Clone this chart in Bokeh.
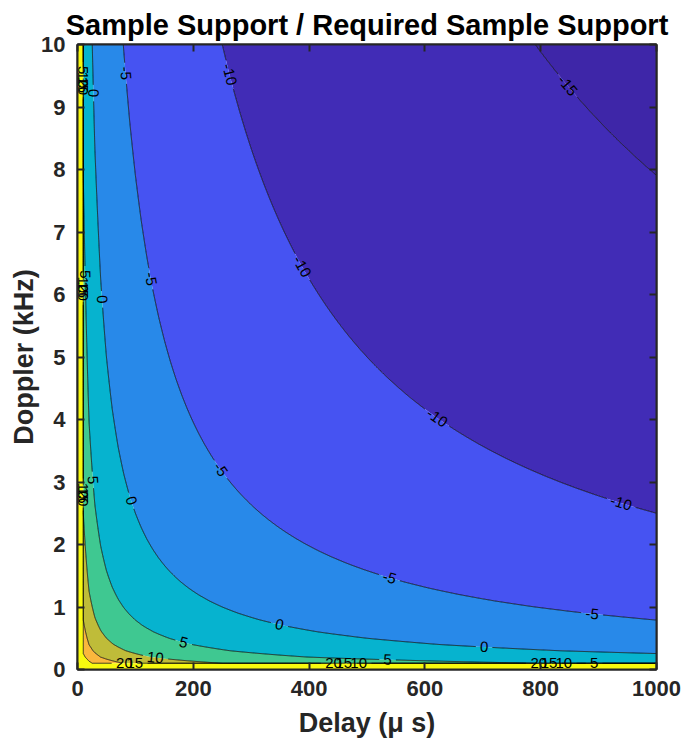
import math
import numpy as np
from bokeh.plotting import figure
from bokeh.plotting.contour import contour_data
from bokeh.models import LinearAxis, FixedTicker, ColumnDataSource, Range1d
from bokeh.core.properties import value
from bokeh.embed import file_html
from bokeh.resources import INLINE

# ---------------- data ----------------
delay_us = np.arange(0.0, 1000.0 + 1e-9, 10.0)        # grid of delays (µs)
doppler_khz = np.arange(0.0, 10.0 + 1e-9, 0.1)        # grid of Doppler (kHz)
required_support_product = 250.0                        # delay*doppler (µs·kHz) where ratio = 0 dB
inf_stand_in_db = 1.0e4                                 # stands in for +Inf at zero delay / doppler
contour_levels = [-15, -10, -5, 0, 5, 10, 15, 20]
band_colors = ["#3e26a8", "#412cb6", "#4653f2", "#2889e9", "#06b3cf",
               "#3fc891", "#bfbc39", "#fab73d", "#f8fa0f"]
x_ticks = [0, 200, 400, 600, 800, 1000]
y_ticks = [0, 1, 2, 3, 4, 5, 6, 7, 8, 9, 10]

# contour labels: level, approx delay, approx doppler (snapped onto the line)
label_levels = [-15,
                -10, -10, -10, -10,
                -5, -5, -5, -5, -5,
                0, 0, 0, 0, 0,
                5, 5, 5, 5, 5, 5,
                10, 10, 10, 10, 10, 10,
                15, 15, 15, 15, 15, 15,
                20, 20, 20, 20, 20, 20]
label_delay = [843.6,
               256, 385, 619, 938,
               79.5, 122.7, 244, 537.6, 888.5,
               26, 39.8, 90, 349, 702,
               6, 8, 20.7, 183, 536, 892,
               8, 8, 8, 135, 486, 840,
               8, 8, 8, 99, 460, 814,
               8, 8, 8, 81, 442, 797]
label_doppler = [9.32,
                 9.5, 6.43, 4.0, 2.64,
                 9.54, 6.24, 3.18, 1.43, 0.876,
                 9.22, 5.92, 2.69, 0.70, 0.35,
                 9.59, 6.32, 3.03, 0.43, 0.14, 0.08,
                 9.43, 6.15, 2.85, 0.19, 0.08, 0.08,
                 9.36, 6.08, 2.79, 0.08, 0.08, 0.08,
                 9.32, 6.03, 2.74, 0.08, 0.08, 0.08]

# ---------------- field ----------------
D, F = np.meshgrid(delay_us, doppler_khz)
with np.errstate(divide="ignore"):
    ratio_db = 10.0 * np.log10(required_support_product / (D * F))
ratio_db[~np.isfinite(ratio_db)] = inf_stand_in_db

# ---------------- layout ----------------
W, H = 684, 740
BL, BR, BT, BB = 77, 28, 44, 68
FW, FH = W - BL - BR, H - BT - BB
SX, SY = FW / 1000.0, FH / 10.0
FONT = "Liberation Sans"
AX = "#262626"
LABEL_PX = 15

p = figure(width=W, height=H, x_range=Range1d(0, 1000), y_range=Range1d(0, 10),
           output_backend="svg", toolbar_location=None,
           min_border_left=BL, min_border_right=BR, min_border_top=BT, min_border_bottom=BB)
p.grid.visible = False
p.background_fill_color = "white"
p.border_fill_color = "white"
p.outline_line_color = AX
p.outline_line_width = 2

# filled bands
fill_levels = [math.floor(float(ratio_db.min())) - 1] + contour_levels + [inf_stand_in_db + 1]
p.contour(delay_us, doppler_khz, ratio_db, fill_levels, fill_color=band_colors)

# contour lines with gaps under labels
cd = contour_data(delay_us, doppler_khz, ratio_db, contour_levels, want_fill=False, want_line=True)


def split_nan(xs, ys):
    xs = np.asarray(xs, dtype=float)
    ys = np.asarray(ys, dtype=float)
    out = []
    if xs.size == 0:
        return out
    bad = np.isnan(xs) | np.isnan(ys)
    start = 0
    for i in range(len(xs) + 1):
        if i == len(xs) or bad[i]:
            if i - start >= 2:
                out.append((xs[start:i], ys[start:i]))
            start = i + 1
    return out


def densify(px, py, step=0.7):
    ox, oy = [px[0]], [py[0]]
    for i in range(1, len(px)):
        dx, dy = px[i] - px[i - 1], py[i] - py[i - 1]
        n = max(1, int(math.ceil(math.hypot(dx, dy) / step)))
        for k in range(1, n + 1):
            ox.append(px[i - 1] + dx * k / n)
            oy.append(py[i - 1] + dy * k / n)
    return np.array(ox), np.array(oy)


def text_width(t, size=LABEL_PX):
    w = 0.0
    for ch in t:
        w += 0.333 if ch == "-" else 0.556
    return w * size


lines_px = {}
for i, lev in enumerate(contour_levels):
    polys = split_nan(cd.line_data.xs[i], cd.line_data.ys[i])
    lines_px[lev] = [densify(x * SX, y * SY) for x, y in polys]

lab_x, lab_y, lab_t, lab_a = [], [], [], []
gaps = {lev: [] for lev in contour_levels}
for lev, lx, ly in zip(label_levels, label_delay, label_doppler):
    tx, ty = lx * SX, ly * SY
    best = None
    for pi, (px, py) in enumerate(lines_px[lev]):
        d = (px - tx) ** 2 + (py - ty) ** 2
        j = int(np.argmin(d))
        if best is None or d[j] < best[0]:
            best = (d[j], pi, j)
    if best is None:
        continue
    _, pi, j = best
    px, py = lines_px[lev][pi]
    j0, j1 = max(0, j - 8), min(len(px) - 1, j + 8)
    ang = math.atan2(py[j1] - py[j0], px[j1] - px[j0])
    while ang > math.pi / 2 - 1e-6:
        ang -= math.pi
    while ang < -math.pi / 2 - 1e-6:
        ang += math.pi
    t = str(lev)
    lab_x.append(px[j] / SX)
    lab_y.append(py[j] / SY)
    lab_t.append(t)
    lab_a.append(ang)
    gaps[lev].append((px[j], py[j], text_width(t) / 2 + 4))

seg_xs, seg_ys = [], []
for lev in contour_levels:
    for px, py in lines_px[lev]:
        keep = np.ones(len(px), dtype=bool)
        for gx, gy, r in gaps[lev]:
            keep &= (px - gx) ** 2 + (py - gy) ** 2 > r * r
        start = None
        for k in range(len(px) + 1):
            if k < len(px) and keep[k]:
                if start is None:
                    start = k
            else:
                if start is not None and k - start >= 2:
                    seg_xs.append(list(px[start:k] / SX))
                    seg_ys.append(list(py[start:k] / SY))
                start = None

p.multi_line(xs=seg_xs, ys=seg_ys, line_color="black", line_width=0.8)

lab_src = ColumnDataSource(dict(x=lab_x, y=lab_y, t=lab_t, a=lab_a))
p.text(x="x", y="y", text="t", angle="a", source=lab_src,
       text_align="center", text_baseline="middle",
       text_font=value(FONT), text_font_size=value(f"{LABEL_PX}px"), text_color="black")

# ---------------- axes ----------------
def style_axis(ax, ticks, show_labels=True):
    ax.ticker = FixedTicker(ticks=ticks)
    ax.major_tick_in = 7
    ax.major_tick_out = 0
    ax.minor_tick_line_color = None
    ax.major_tick_line_color = AX
    ax.major_tick_line_width = 2
    ax.axis_line_color = AX
    ax.axis_line_width = 2
    ax.major_label_text_font = FONT
    ax.major_label_text_font_style = "bold"
    ax.major_label_text_color = AX
    ax.major_label_text_font_size = "22px"
    if not show_labels:
        ax.major_label_overrides = {t: "" for t in ticks}
        ax.major_label_standoff = 0


style_axis(p.xaxis[0], x_ticks)
style_axis(p.yaxis[0], y_ticks)
p.xaxis[0].major_label_standoff = 11
p.yaxis[0].major_label_standoff = 12
p.xaxis[0].axis_label = "Delay (\u03bc s)"
p.yaxis[0].axis_label = "Doppler (kHz)"
for ax in (p.xaxis[0], p.yaxis[0]):
    ax.axis_label_text_font = FONT
    ax.axis_label_text_font_style = "bold"
    ax.axis_label_text_font_size = "27px"
    ax.axis_label_text_color = AX
p.xaxis[0].axis_label_standoff = 9
p.yaxis[0].axis_label_standoff = -1

top = LinearAxis()
style_axis(top, x_ticks, show_labels=False)
p.add_layout(top, "above")
right = LinearAxis()
style_axis(right, y_ticks, show_labels=False)
p.add_layout(right, "right")

p.title.text = "Sample Support / Required Sample Support"
p.title.align = "center"
p.title.text_font = FONT
p.title.text_font_style = "bold"
p.title.text_font_size = "29px"
p.title.text_color = "black"
p.title.standoff = 8

open("out.html", "w").write(file_html(p, INLINE))
